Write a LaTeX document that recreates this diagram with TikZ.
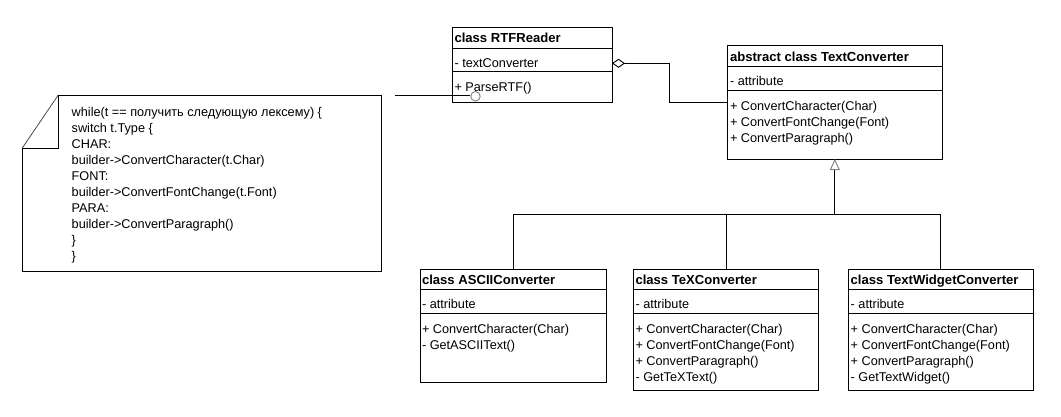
\documentclass[tikz,border=0pt]{standalone}
\usepackage{fontspec}
\setmainfont{Liberation Sans}
\usetikzlibrary{arrows.meta}
\definecolor{tipgray}{HTML}{808080}
\begin{document}
\begin{tikzpicture}[x=1pt,y=-1pt,
  umlbox/.style={draw=black, line width=1pt, inner sep=0pt, outer sep=0pt, anchor=north west},
  txt/.style={anchor=base west, inner sep=0pt, outer sep=0pt, font=\fontsize{12.7}{15}\selectfont},
  hdr/.style={txt, font=\fontsize{13.1}{15}\selectfont\bfseries},
  divider/.style={draw=black, line width=1pt},
  conn/.style={draw=black, line width=1pt},
]
\useasboundingbox[fill=white] (0,0) rectangle (1061,416);

% ---------- RTFReader ----------
\node[umlbox, minimum width=159.5, minimum height=75.4] (rtf) at (452.5,27.3) {};
\draw[divider] (rtf.west |- 0,48.3) -- (rtf.east |- 0,48.3);
\draw[divider] (rtf.west |- 0,71.7) -- (rtf.east |- 0,71.7);
\node[hdr] (rtfH) at (454.5,42.5) {class RTFReader};
\node[txt] (rtfA) at (454.5,67) {- textConverter};
\node[txt] (rtfM) at (454.5,91.5) {+ ParseRTF()};

% ---------- TextConverter ----------
\node[umlbox, minimum width=214.3, minimum height=114] (tc) at (727.7,45) {};
\draw[divider] (tc.west |- 0,66.7) -- (tc.east |- 0,66.7);
\draw[divider] (tc.west |- 0,90.7) -- (tc.east |- 0,90.7);
\node[hdr] (tcH) at (730,61) {abstract class TextConverter};
\node[txt] (tcA) at (730,85.5) {- attribute};
\node[txt] (tcM1) at (730,110.5) {+ ConvertCharacter(Char)};
\node[txt] (tcM2) at (730,126.3) {+ ConvertFontChange(Font)};
\node[txt] (tcM3) at (730,142) {+ ConvertParagraph()};

% ---------- ASCIIConverter ----------
\node[umlbox, minimum width=186.7, minimum height=113] (ascii) at (420,269.3) {};
\draw[divider] (ascii.west |- 0,289.3) -- (ascii.east |- 0,289.3);
\draw[divider] (ascii.west |- 0,313.3) -- (ascii.east |- 0,313.3);
\node[hdr] (asH) at (422,284.5) {class ASCIIConverter};
\node[txt] (asA) at (422,308.5) {- attribute};
\node[txt] (asM1) at (422,333.5) {+ ConvertCharacter(Char)};
\node[txt] (asM2) at (422,349.5) {- GetASCIIText()};

% ---------- TeXConverter ----------
\node[umlbox, minimum width=185.4, minimum height=120.7] (tex) at (633.3,269.3) {};
\draw[divider] (tex.west |- 0,289.3) -- (tex.east |- 0,289.3);
\draw[divider] (tex.west |- 0,313.3) -- (tex.east |- 0,313.3);
\node[hdr] (txH) at (635.5,284.5) {class TeXConverter};
\node[txt] (txA) at (635.5,308.5) {- attribute};
\node[txt] (txM1) at (635.5,333.5) {+ ConvertCharacter(Char)};
\node[txt] (txM2) at (635.5,349.5) {+ ConvertFontChange(Font)};
\node[txt] (txM3) at (635.5,365.5) {+ ConvertParagraph()};
\node[txt] (txM4) at (635.5,381.5) {- GetTeXText()};

% ---------- TextWidgetConverter ----------
\node[umlbox, minimum width=184.8, minimum height=120.7] (tw) at (848.5,269.3) {};
\draw[divider] (tw.west |- 0,289.3) -- (tw.east |- 0,289.3);
\draw[divider] (tw.west |- 0,313.3) -- (tw.east |- 0,313.3);
\node[hdr] (twH) at (850.7,284.5) {class TextWidgetConverter};
\node[txt] (twA) at (850.7,308.5) {- attribute};
\node[txt] (twM1) at (850.7,333.5) {+ ConvertCharacter(Char)};
\node[txt] (twM2) at (850.7,349.5) {+ ConvertFontChange(Font)};
\node[txt] (twM3) at (850.7,365.5) {+ ConvertParagraph()};
\node[txt] (twM4) at (850.7,381.5) {- GetTextWidget()};

% ---------- Note ----------
\node[inner sep=0pt, outer sep=0pt, minimum width=359.4, minimum height=176.7, anchor=north west] (note) at (22.3,95) {};
\draw[black, line width=1pt] ([yshift=-53pt]note.north west) -- (note.south west) -- (note.south east) -- (note.north east) -- ([xshift=36pt]note.north west);
\draw[black!70, line width=0.8pt] ([xshift=36pt]note.north west) -- ([yshift=-53pt]note.north west);
\draw[black, line width=1pt] ([xshift=36pt]note.north west) -- ([xshift=36pt,yshift=-53pt]note.north west) -- ([yshift=-53pt]note.north west);
\node[txt] (n1) at (71.7,116) {while(t == получить следующую лексему) \{};
\node[txt] (n2) at (71.7,132) {switch t.Type \{};
\node[txt] (n3) at (71.7,148) {CHAR:};
\node[txt] (n4) at (71.7,164) {builder->ConvertCharacter(t.Char)};
\node[txt] (n5) at (71.7,180) {FONT:};
\node[txt] (n6) at (71.7,196) {builder->ConvertFontChange(t.Font)};
\node[txt] (n7) at (71.7,212) {PARA:};
\node[txt] (n8) at (71.7,228) {builder->ConvertParagraph()};
\node[txt] (n9) at (71.7,244) {\}};
\node[txt] (n10) at (71.7,260) {\}};

% ---------- Note link ----------
\coordinate (nl) at (395,95.7);
\node[circle, draw=tipgray, line width=0.9pt, minimum size=9.5pt, inner sep=0pt] (circ) at (475.5,96.3) {};
\draw[conn] (nl) -- (circ.west |- nl);

% ---------- Aggregation ----------
\coordinate (aggTop) at (669,63.3);
\coordinate (aggBot) at (669,102.7);
\draw[conn, {Diamond[open, length=13pt, width=9pt, line width=0.9pt]}-] (rtf.east |- aggTop) -- (aggTop) -- (aggBot) -- (tc.west |- aggBot);

% ---------- Generalization ----------
\coordinate (hub) at (tc.south |- 0,214.3);
\draw[conn, -{Triangle[open, length=11pt, width=10pt, color=tipgray, line width=0.9pt]}] (hub) -- (tc.south);
\draw[conn] (ascii.north) |- (hub) -| (tw.north);
\draw[conn] (tex.north) -- (tex.north |- hub);
\end{tikzpicture}
\end{document}
